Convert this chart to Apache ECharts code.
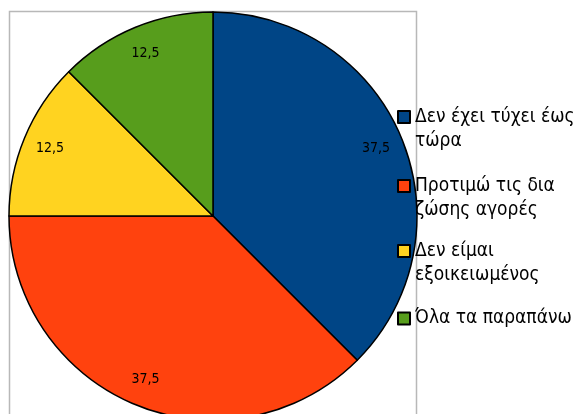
<!DOCTYPE html>
<html>
<head>
<meta charset="utf-8">
<script src="https://cdn.jsdelivr.net/npm/echarts@6/dist/echarts.min.js"></script>
<style>
  html, body { margin: 0; padding: 0; background: #fff; }
  #chart { width: 576px; height: 414px; }
</style>
</head>
<body>
<div id="chart"></div>
<script>
// Survey answers and their shares (%)
const categories = [
  'Δεν έχει τύχει έως τώρα',
  'Προτιμώ τις δια ζώσης αγορές',
  'Δεν είμαι εξοικειωμένος',
  'Όλα τα παραπάνω'
];
const values = [37.5, 37.5, 12.5, 12.5];
const colors = ['#004586', '#ff420e', '#ffd320', '#579d1c'];

const FONT = "'Liberation Sans Narrow', 'DejaVu Sans Condensed', 'Open Sans', sans-serif";
const LEGEND_SIZE = 19;
const LINE_H = 24;
const WRAP_WIDTH = 175;
const cx = 213, cy = 216, R = 204;

// Greedy word wrap measured with the legend font
const measureCtx = document.createElement('canvas').getContext('2d');
measureCtx.font = LEGEND_SIZE + 'px ' + FONT;
function wrapWords(text, maxWidth) {
  const words = text.split(' ');
  const lines = [];
  let line = '';
  words.forEach(w => {
    const test = line ? line + ' ' + w : w;
    if (line && measureCtx.measureText(test).width > maxWidth) {
      lines.push(line);
      line = w;
    } else {
      line = test;
    }
  });
  if (line) lines.push(line);
  return lines;
}

const pieData = categories.map((name, i) => ({
  name: name,
  value: values[i],
  itemStyle: { color: colors[i] }
}));

// One legend block per answer; the marker lines up with the first text line
const firstLineCenters = [117, 186, 251, 318.5];
const legends = categories.map((name, i) => {
  const lines = wrapWords(name, WRAP_WIDTH);
  const extra = lines.length - 1;
  // blank lines above push the first line level with the marker
  const shown = new Array(extra).fill('').concat(lines).join('\n');
  const halfBox = (lines.length + extra) * LINE_H / 2;
  return {
    show: true,
    orient: 'vertical',
    left: 397,
    top: firstLineCenters[i] - halfBox,
    padding: 0,
    icon: 'rect',
    itemWidth: 12,
    itemHeight: 12,
    selectedMode: false,
    data: [name],
    formatter: () => shown,
    textStyle: {
      fontFamily: FONT,
      fontSize: LEGEND_SIZE,
      lineHeight: LINE_H,
      color: '#000'
    }
  };
});

const chart = echarts.init(document.getElementById('chart'), null, { renderer: 'canvas' });
chart.setOption({
  animation: false,
  backgroundColor: '#fff',
  legend: legends,
  graphic: [{
    type: 'rect',
    z: 0,
    shape: { x: 9.5, y: 11.5, width: 407, height: 430 },
    style: { fill: 'none', stroke: '#b8b8b8', lineWidth: 1.5 }
  }],
  series: [
    {
      type: 'pie',
      center: [cx, cy],
      radius: [0, R],
      startAngle: 90,
      clockwise: true,
      label: { show: false },
      labelLine: { show: false },
      itemStyle: { borderColor: '#000', borderWidth: 1.5 },
      emphasis: { disabled: true },
      data: pieData
    },
    {
      // value labels, placed near the rim
      type: 'pie',
      center: [cx, cy],
      radius: [R * 0.7, R],
      startAngle: 90,
      clockwise: true,
      silent: true,
      legendHoverLink: false,
      itemStyle: { color: 'rgba(0,0,0,0)', borderWidth: 0 },
      emphasis: { disabled: true },
      labelLine: { show: false },
      label: {
        show: true,
        position: 'inside',
        fontFamily: FONT,
        fontSize: 14,
        color: '#000',
        formatter: p => String(p.value).replace('.', ',')
      },
      data: categories.map((name, i) => ({ name: name, value: values[i] }))
    }
  ]
});
</script>
</body>
</html>
